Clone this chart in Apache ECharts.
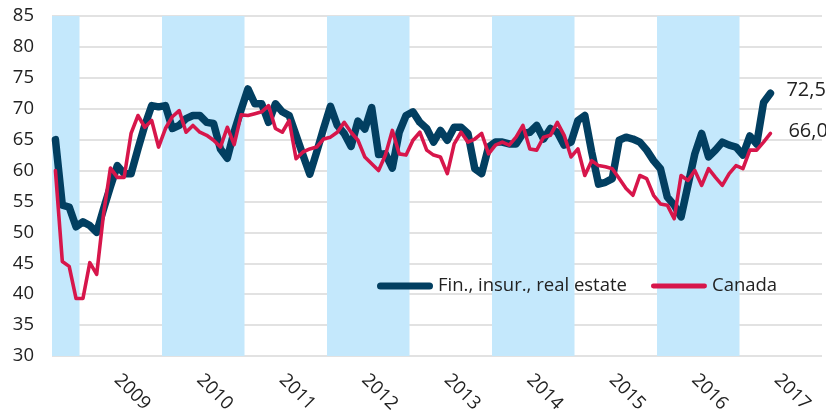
<!DOCTYPE html>
<html>
<head>
<meta charset="utf-8">
<style>
  html, body { margin: 0; padding: 0; background: #ffffff; }
  #chart { width: 826px; height: 416px; }
</style>
<script src="https://cdn.jsdelivr.net/npm/echarts@6/dist/echarts.min.js"></script>
</head>
<body>
<div id="chart"></div>
<script>
// Monthly readings, September 2008 to May 2017
const finSeries = [
  65.0, 54.4, 54.1, 50.9, 51.7, 51.1, 50.0, 53.8, 57.4, 60.8,
  59.5, 59.5, 63.5, 67.3, 70.5, 70.3, 70.5, 66.8, 67.3, 68.4,
  68.9, 68.9, 67.8, 67.6, 63.5, 62.0, 66.3, 69.8, 73.2, 70.8,
  70.8, 67.8, 70.8, 69.5, 68.9, 65.7, 62.5, 59.4, 63.0, 66.8,
  70.4, 67.3, 66.0, 63.9, 68.0, 66.7, 70.2, 62.6, 62.7, 60.4,
  66.2, 68.9, 69.5, 67.8, 66.8, 64.6, 66.5, 64.9, 67.0, 67.0,
  66.0, 60.3, 59.5, 63.8, 64.6, 64.6, 64.3, 64.3, 66.0, 66.2,
  67.3, 65.1, 66.8, 66.2, 64.1, 64.6, 68.1, 68.9, 63.0, 57.8,
  58.1, 58.7, 64.9, 65.4, 65.1, 64.6, 63.3, 61.6, 60.3, 55.7,
  54.4, 52.5, 57.6, 62.7, 66.0, 62.2, 63.3, 64.6, 64.1, 63.8,
  62.5, 65.6, 64.3, 71.0, 72.5
];
const canadaSeries = [
  60.0, 45.3, 44.5, 39.3, 39.3, 45.1, 43.2, 53.0, 60.4, 58.9,
  58.9, 66.0, 68.9, 67.0, 68.1, 63.8, 66.8, 68.7, 69.7, 66.2,
  67.3, 66.2, 65.7, 64.9, 63.8, 67.0, 64.2, 69.0, 68.9, 69.2,
  69.5, 70.5, 66.8, 66.2, 68.1, 61.9, 63.0, 63.5, 63.8, 65.1,
  65.4, 66.2, 67.8, 66.2, 64.9, 62.2, 61.1, 60.0, 62.5, 66.5,
  62.7, 62.5, 64.9, 66.2, 63.3, 62.5, 62.2, 59.5, 64.3, 66.2,
  64.6, 65.1, 66.0, 62.7, 64.1, 64.6, 64.1, 65.4, 67.3, 63.5,
  63.3, 65.4, 65.7, 67.8, 65.7, 62.2, 63.5, 59.2, 61.6, 60.8,
  60.6, 60.3, 58.7, 57.1, 56.0, 59.2, 58.7, 56.0, 54.6, 54.4,
  52.2, 59.2, 58.4, 60.0, 57.6, 60.3, 58.9, 57.6, 59.5, 60.8,
  60.3, 63.3, 63.3, 64.6, 66.0
];
const seriesNames = ['Fin., insur., real estate', 'Canada'];
const yearLabels = ['2009', '2010', '2011', '2012', '2013', '2014', '2015', '2016', '2017'];
const shadedYears = [2008, 2010, 2012, 2014, 2016];
const yTicks = { min: 30, max: 85, interval: 5 };

// Month categories for the whole axis span (Sep 2008 .. Dec 2017)
const months = [];
for (let y = 2008, m = 9; y < 2018; ) {
  months.push(y + '-' + String(m).padStart(2, '0'));
  m++;
  if (m > 12) { m = 1; y++; }
}

// Alternate-year background bands: first and last month index of each shaded year
const bandRanges = shadedYears.map(yr => {
  const idx = months.map((c, i) => Number(c.slice(0, 4)) === yr ? i : -1).filter(i => i >= 0);
  return [idx[0], idx[idx.length - 1]];
});

const FONT = '"Open Sans", "Noto Sans", sans-serif';
const TEXT = '#222222';
const NAVY = '#023f61';
const RED = '#d7164b';
const BAND = '#c4e8fc';

// Value tag shown only at the final reading of a series
function lastValueLabel(values) {
  const last = values.length - 1;
  return p => p.dataIndex === last ? Number(p.value).toFixed(1).replace('.', ',') : '';
}

// Rounded legend strokes of two thicknesses
const thickStroke = 'path://M3.5,0 L52.5,0 A3.5,3.5 0 0 1 52.5,7 L3.5,7 A3.5,3.5 0 0 1 3.5,0 Z';
const thinStroke = 'path://M2.4,0 L53.6,0 A2.4,2.4 0 0 1 53.6,4.8 L2.4,4.8 A2.4,2.4 0 0 1 2.4,0 Z';

const chart = echarts.init(document.getElementById('chart'), null, { renderer: 'canvas' });
chart.setOption({
  animation: false,
  backgroundColor: '#ffffff',
  textStyle: { fontFamily: FONT },
  grid: { left: 52, right: 4, top: 16, bottom: 60 },
  legend: {
    data: [
      { name: seriesNames[0], icon: thickStroke, itemStyle: { color: NAVY } },
      { name: seriesNames[1], icon: thinStroke, itemStyle: { color: RED } }
    ],
    left: 377,
    top: 275,
    padding: 0,
    itemWidth: 56,
    itemHeight: 8,
    itemGap: 24,
    textStyle: { fontFamily: FONT, fontSize: 18.5, color: TEXT, lineHeight: 22 },
    selectedMode: false
  },
  xAxis: {
    type: 'category',
    data: months,
    boundaryGap: true,
    axisLine: { show: false },
    axisTick: { show: false },
    splitLine: { show: false },
    axisLabel: {
      interval: (idx, val) => val.endsWith('-06') && yearLabels.includes(val.slice(0, 4)),
      formatter: val => val.slice(0, 4),
      rotate: -45,
      margin: 21,
      fontFamily: FONT,
      fontSize: 18.5,
      color: TEXT
    }
  },
  yAxis: {
    type: 'value',
    min: yTicks.min,
    max: yTicks.max,
    interval: yTicks.interval,
    axisLine: { show: false },
    axisTick: { show: false },
    splitLine: { show: true, lineStyle: { color: '#d9d9d9', width: 1.6 } },
    axisLabel: { margin: 18, fontFamily: FONT, fontSize: 18.5, color: TEXT }
  },
  series: [
    {
      name: 'bands',
      type: 'custom',
      data: bandRanges,
      silent: true,
      z: 1,
      renderItem: (params, api) => {
        const half = api.size([1, 0])[0] / 2;
        const topLeft = api.coord([api.value(0), yTicks.max]);
        const bottomRight = api.coord([api.value(1), yTicks.min]);
        const x0 = topLeft[0] - half;
        const x1 = bottomRight[0] + half;
        return {
          type: 'rect',
          shape: { x: x0, y: topLeft[1], width: x1 - x0, height: bottomRight[1] - topLeft[1] },
          style: { fill: BAND }
        };
      }
    },
    {
      name: seriesNames[0],
      type: 'line',
      data: finSeries,
      symbol: 'circle',
      symbolSize: 0,
      showSymbol: true,
      lineStyle: { color: NAVY, width: 7.5, cap: 'round', join: 'round' },
      itemStyle: { color: NAVY },
      label: {
        show: true,
        position: 'right',
        distance: 4,
        offset: [12, -3],
        formatter: lastValueLabel(finSeries),
        fontFamily: FONT, fontSize: 20, color: TEXT
      },
      z: 3
    },
    {
      name: seriesNames[1],
      type: 'line',
      data: canadaSeries,
      symbol: 'circle',
      symbolSize: 0,
      showSymbol: true,
      lineStyle: { color: RED, width: 3.6, cap: 'round', join: 'round' },
      itemStyle: { color: RED },
      label: {
        show: true,
        position: 'right',
        distance: 4,
        offset: [14, -2],
        formatter: lastValueLabel(canadaSeries),
        fontFamily: FONT, fontSize: 20, color: TEXT
      },
      z: 4
    }
  ]
});
</script>
</body>
</html>
